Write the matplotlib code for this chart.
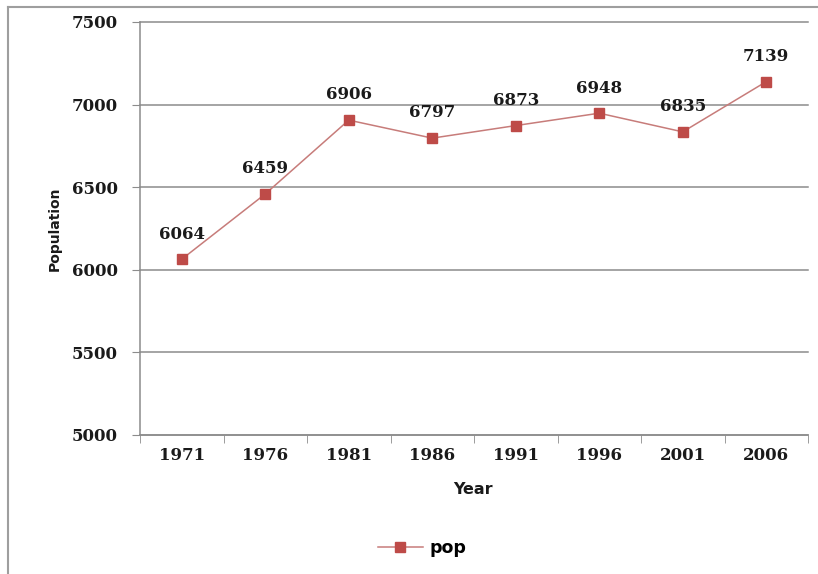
import matplotlib
matplotlib.use("Agg")
import matplotlib.pyplot as plt
from matplotlib.lines import Line2D

years = ["1971", "1976", "1981", "1986", "1991", "1996", "2001", "2006"]
pop = [6064, 6459, 6906, 6797, 6873, 6948, 6835, 7139]

W, H = 818, 574
fig = plt.figure(figsize=(W / 100, H / 100), dpi=100)
fig.patch.set_facecolor("white")

# plot area in pixel terms
left, right, top, bottom = 140, 808, 22, 435
ax = fig.add_axes([left / W, 1 - bottom / H, (right - left) / W, (bottom - top) / H])

x = list(range(len(years)))
ax.plot(x, pop, color="#C77C7A", linewidth=1.1, marker="s", markersize=6.5,
        markerfacecolor="#BE4B48", markeredgecolor="#BE4B48", label="pop", zorder=3)

serif = dict(family="DejaVu Serif", weight="bold", size=12, color="#1a1a1a")
for xi, v in zip(x, pop):
    ax.annotate(str(v), (xi, v), xytext=(0, 12), textcoords="offset points",
                ha="center", va="bottom", **serif)

ax.set_xlim(-0.5, len(years) - 0.5)
ax.set_ylim(5000, 7500)
ax.set_yticks(range(5000, 7501, 500))
ax.yaxis.grid(True, color="#8c8c8c", linewidth=1.1)
for gl in ax.get_ygridlines():
    gl.set_clip_on(False)
ax.set_axisbelow(True)

ax.set_xticks(x)
ax.set_xticklabels(years, **serif)
ax.set_yticklabels([str(t) for t in range(5000, 7501, 500)], **serif)
ax.set_xticks([i - 0.5 for i in range(len(years) + 1)], minor=True)
ax.tick_params(axis="x", which="major", length=0, pad=9)
ax.tick_params(axis="x", which="minor", length=6, color="#8c8c8c", direction="out")
ax.tick_params(axis="y", length=6, color="#8c8c8c", direction="out", pad=10)

for s in ["top", "right"]:
    ax.spines[s].set_visible(False)
for s in ["left", "bottom"]:
    ax.spines[s].set_color("#8c8c8c")
    ax.spines[s].set_linewidth(1.1)

sans = dict(family="DejaVu Sans", weight="bold", color="#1a1a1a")
fig.text(55 / W, 1 - 229 / H, "Population", rotation=90, ha="center", va="center",
         size=10, **sans)
fig.text(473 / W, 1 - 490 / H, "Year", ha="center", va="center", size=11.5, **sans)

leg = fig.legend(loc="center", bbox_to_anchor=(422 / W, 1 - 548 / H), frameon=False,
                 handlelength=2.6, handletextpad=0.4,
                 prop=dict(family="DejaVu Sans", weight="bold", size=12.5))

# outer chart frame (top and left edges)
fig.add_artist(Line2D([8 / W, 1], [1 - 7 / H, 1 - 7 / H], transform=fig.transFigure,
                      color="#9e9e9e", linewidth=1.5))
fig.add_artist(Line2D([8 / W, 8 / W], [0, 1 - 7 / H], transform=fig.transFigure,
                      color="#9e9e9e", linewidth=1.5))

fig.savefig("out.png", dpi=100, facecolor="white")
